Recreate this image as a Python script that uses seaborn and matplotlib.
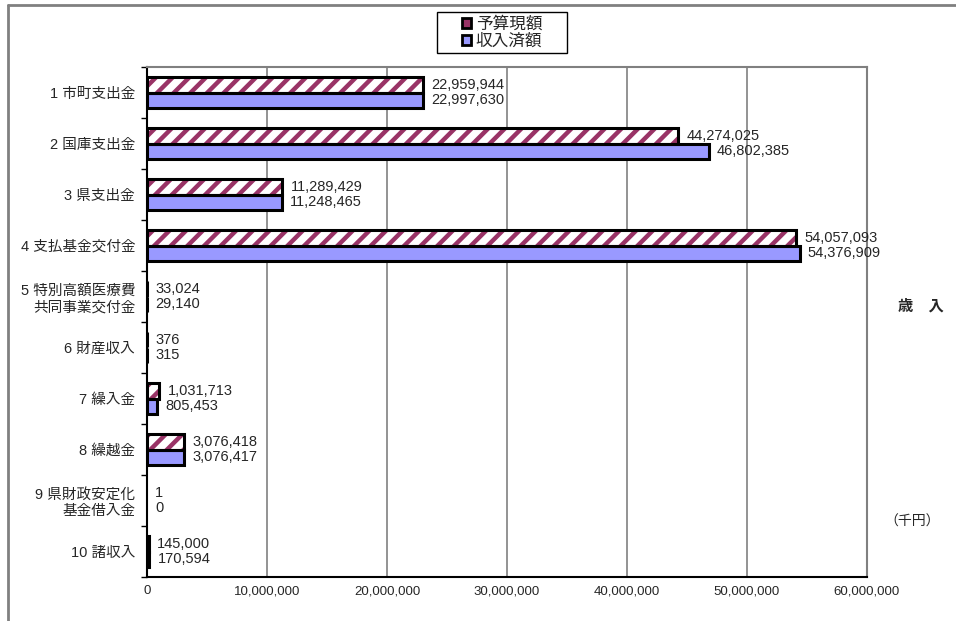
import numpy as np
import pandas as pd
import matplotlib
matplotlib.use("Agg")
import matplotlib.pyplot as plt
import seaborn as sns
from matplotlib.lines import Line2D
from matplotlib.patches import Rectangle, Patch
from matplotlib.ticker import FuncFormatter

categories = ["1 市町支出金", "2 国庫支出金", "3 県支出金", "4 支払基金交付金",
              "5 特別高額医療費\n共同事業交付金", "6 財産収入", "7 繰入金", "8 繰越金",
              "9 県財政安定化\n基金借入金", "10 諸収入"]
budget = [22959944, 44274025, 11289429, 54057093, 33024, 376, 1031713, 3076418, 1, 145000]
received = [22997630, 46802385, 11248465, 54376909, 29140, 315, 805453, 3076417, 0, 170594]
series_names = ["予算現額", "収入済額"]
x_ticks = [0, 10000000, 20000000, 30000000, 40000000, 50000000, 60000000]

sns.set_style("white")
plt.rcParams["font.family"] = ["Liberation Sans", "Noto Sans CJK JP", "DejaVu Sans"]
plt.rcParams["hatch.linewidth"] = 3.2

df = pd.DataFrame({
    "category": categories * 2,
    "series": [series_names[0]] * len(categories) + [series_names[1]] * len(categories),
    "value": budget + received,
})

fig = plt.figure(figsize=(9.56, 6.21), dpi=100)
ax = fig.add_axes([147 / 956, 1 - 577 / 621, 720 / 956, 510 / 621])

sns.barplot(data=df, y="category", x="value", hue="series", orient="h",
            order=categories, hue_order=series_names, width=0.62,
            palette=["white", "#9999FF"], saturation=1, edgecolor="black",
            linewidth=2.2, errorbar=None, legend=False, ax=ax)

hatch_c = ax.containers[0]
blue_c = ax.containers[1]
for p in hatch_c.patches:
    p.set_hatch("//")
    p.set_edgecolor("#993366")
    p.set_linewidth(0)
    if p.get_width() >= 100:
        ax.add_patch(Rectangle(p.get_xy(), p.get_width(), p.get_height(), fill=False,
                               edgecolor="black", linewidth=2.2, zorder=p.get_zorder() + 0.1))
    else:
        p.set_visible(False)
for p in blue_c.patches:
    if p.get_width() < 100:
        p.set_visible(False)

ax.bar_label(hatch_c, labels=[f"{v:,}" for v in budget], padding=6, fontsize=10.5)
ax.bar_label(blue_c, labels=[f"{v:,}" for v in received], padding=6, fontsize=10.5)

ax.set_xlim(0, 60000000)
ax.set_ylim(9.5, -0.5)
ax.set_xticks(x_ticks)
ax.xaxis.set_major_formatter(FuncFormatter(lambda v, pos: f"{int(v):,}"))
ax.tick_params(axis="x", length=0, pad=6, labelsize=9.5)
ax.tick_params(axis="y", which="major", length=0, pad=8.5, labelsize=10.5)
ax.set_yticks(np.arange(-0.5, 10, 1), minor=True)
ax.tick_params(axis="y", which="minor", length=4, width=1, color="black", direction="out", left=True)
ax.set_xlabel("")
ax.set_ylabel("")
ax.xaxis.grid(True, color="#808080", linewidth=1.2)
ax.set_axisbelow(True)
for s in ["left", "bottom"]:
    ax.spines[s].set_color("black")
    ax.spines[s].set_linewidth(1.5)
for s in ["top", "right"]:
    ax.spines[s].set_color("#808080")
    ax.spines[s].set_linewidth(1.5)

handles = [Patch(facecolor="#993366", edgecolor="black", linewidth=2),
           Patch(facecolor="#9999FF", edgecolor="black", linewidth=2)]
leg = fig.legend(handles, series_names, loc="center", bbox_to_anchor=(502 / 956, 1 - 32.5 / 621),
                 fontsize=12, frameon=False, handlelength=0.55, handleheight=0.55,
                 handletextpad=0.3, borderpad=0.2, labelspacing=0.1, borderaxespad=0)
fig.add_artist(Rectangle((437 / 956, 1 - 53 / 621), 130 / 956, 41 / 621, transform=fig.transFigure,
                         fill=False, edgecolor="black", linewidth=1))

fig.text(921 / 956, 1 - 306 / 621, "歳　入", ha="center", va="center", fontsize=11, fontweight="bold")
fig.text(912 / 956, 1 - 522 / 621, "（千円）", ha="center", va="center", fontsize=10)

fig.add_artist(Line2D([8 / 956, 1], [1 - 5 / 621, 1 - 5 / 621], transform=fig.transFigure,
                      color="#808080", linewidth=2))
fig.add_artist(Line2D([8 / 956, 8 / 956], [0, 1 - 5 / 621], transform=fig.transFigure,
                      color="#808080", linewidth=2))

fig.savefig("out.png", dpi=100)
